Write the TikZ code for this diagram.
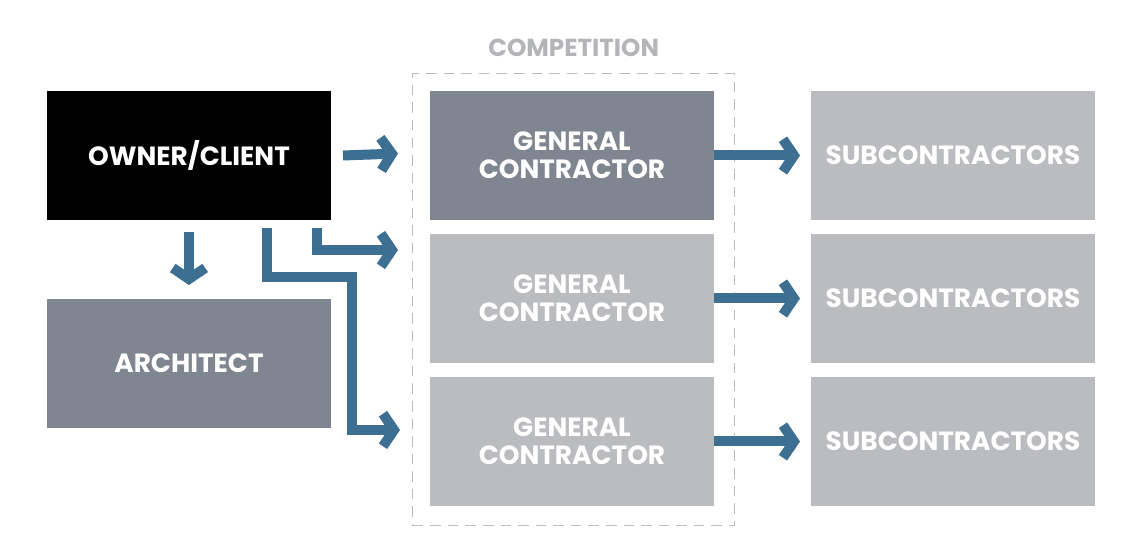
\documentclass[tikz,border=0pt]{standalone}
\usepackage{fontspec}
\setmainfont{Poppins}
\usepackage{tikz}
\usetikzlibrary{calc}
\usetikzlibrary{arrows.meta}
\usetikzlibrary{positioning}
\definecolor{darkbox}{HTML}{7F8690}
\definecolor{lightbox}{HTML}{BBBCBF}
\definecolor{flowblue}{HTML}{3D6F92}
\definecolor{labelgray}{HTML}{B4B5B8}

\begin{document}
\begin{tikzpicture}[x=0.02cm, y=-0.02cm,
	box/.style={rectangle, inner sep=0pt, outer sep=0pt, minimum height=2.58cm, minimum width=5.68cm, anchor=north west, text=white, font=\fontsize{15}{16}\selectfont\bfseries, align=center},
	flow/.style={line width=0.2cm, draw=flowblue, -{Straight Barb[length=2.2mm, width=6.5mm, line width=0.2cm]}}]

\useasboundingbox (0,0) rectangle (1142,555);

%% boxes
\node at (47,91) [box, fill=black] (owner) {OWNER/CLIENT};
\node at (47,299) [box, fill=darkbox] (architect) {ARCHITECT};

\node at (430,91) [box, fill=darkbox] (gc1) {GENERAL\\CONTRACTOR};
\node at (430,234) [box, fill=lightbox] (gc2) {GENERAL\\CONTRACTOR};
\node at (430,377) [box, fill=lightbox] (gc3) {GENERAL\\CONTRACTOR};

\node at (811,91) [box, fill=lightbox] (sub1) {SUBCONTRACTORS};
\node at (811,234) [box, fill=lightbox] (sub2) {SUBCONTRACTORS};
\node at (811,377) [box, fill=lightbox] (sub3) {SUBCONTRACTORS};

%% competition frame
\node at (412,73) [rectangle, draw=lightbox, thick, dashed, dash pattern=on 6pt off 4pt, minimum width=6.44cm, minimum height=9.04cm, anchor=north west] (competition) {};
\node [above=0.2cm of competition.north, text=labelgray, font=\fontsize{14}{15}\selectfont\bfseries] (complabel) {COMPETITION};

%% arrows
\coordinate (bend2) at (317,228);
\coordinate (bend3) at (267,228);
\draw [flow] ([xshift=0.24cm]owner.east) -- ([xshift=-0.64cm, yshift=0.04cm]gc1.west);
\draw [flow] ([yshift=-0.24cm]owner.south) -- ([yshift=0.28cm]architect.north);
\draw [flow] (bend2) |- (398,250);
\draw [flow] (bend3) -- (267,277) -- (352,277) -- (352,430) -- (400,430);
\draw [flow] (gc1.east) -- ([xshift=-0.22cm]sub1.west);
\draw [flow] (gc2.east) -- ([xshift=-0.22cm]sub2.west);
\draw [flow] (gc3.east) -- ([xshift=-0.22cm]sub3.west);

\end{tikzpicture}
\end{document}
